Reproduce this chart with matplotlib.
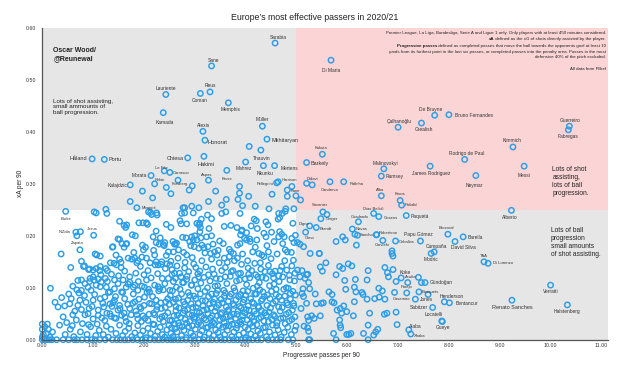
import matplotlib
matplotlib.use("Agg")
import matplotlib.pyplot as plt
from matplotlib.patches import Rectangle

plt.rcParams['font.family'] = ['Liberation Sans', 'DejaVu Sans']

# ---------------- data ----------------
title = "Europe\u2019s most effective passers in 2020/21"
x_label = "Progressive passes per 90"
y_label = "xA per 90"
x_ticks = [0, 1, 2, 3, 4, 5, 6, 7, 8, 9, 10, 11]
y_ticks = [0.0, 0.1, 0.2, 0.3, 0.4, 0.5, 0.6]

# named players (name, progressive passes p90, xA p90)
named_upper_left = [
    ("Sarabia", 4.58, 0.571), ("Sane", 3.33, 0.527), ("Lauriente", 2.43, 0.472),
    ("Reus", 3.30, 0.477), ("Coman", 3.11, 0.474), ("Memphis", 3.66, 0.456),
    ("Kamada", 2.38, 0.437), ("Alexis", 3.16, 0.401), ("Müller", 4.33, 0.411),
    ("Honorat", 3.20, 0.384), ("Mkhitaryan", 4.42, 0.386), ("Håland", 0.98, 0.348),
    ("Portu", 1.22, 0.347), ("Chiesa", 2.86, 0.350), ("Hakimi", 3.18, 0.353),
    ("Thauvin", 4.30, 0.365), ("Mahrez", 4.00, 0.342), ("Nkunku", 4.35, 0.335),
    ("Mertens", 4.57, 0.335), ("Le Fée", 2.40, 0.325), ("Carrasco", 2.51, 0.322),
    ("Morata", 2.14, 0.316), ("Aspas", 3.27, 0.307), ("Kruse", 3.63, 0.326),
    ("Rebic", 2.21, 0.300), ("Forsberg", 2.67, 0.307), ("Kalajdzic", 1.73, 0.298),
    ("Pellegrini", 4.61, 0.302), ("Harrison", 4.64, 0.304), ("Kane", 4.99, 0.277),
    ("Mbappé", 1.86, 0.254),
]
named_lower_left = [
    ("Burke", 0.46, 0.247), ("N'Zola", 0.66, 0.207), ("Jesus", 1.01, 0.201),
    ("Zapata", 0.68, 0.200),
]
named_lower_right = [
    ("Savanier", 5.52, 0.246), ("Geiger", 5.48, 0.233), ("Dias Belloli", 6.52, 0.243),
    ("Gosens", 6.62, 0.237), ("Cuadrado", 6.22, 0.227), ("Paquetá", 7.16, 0.239),
    ("Digne", 5.26, 0.219), ("Olmo", 5.18, 0.207), ("Brandt", 5.39, 0.216),
    ("Navas", 6.10, 0.213), ("Sancho", 6.20, 0.201), ("Robertson", 6.58, 0.202),
    ("Cancelo", 6.70, 0.191), ("Ceballos", 6.95, 0.190), ("Papu Gómez", 7.44, 0.190),
    ("Brozović", 7.98, 0.203), ("Barella", 8.28, 0.198), ("David Silva", 8.12, 0.189),
    ("Campaña", 7.71, 0.169), ("Modric", 7.65, 0.166), ("TAA", 8.69, 0.150),
    ("Di Lorenzo", 8.77, 0.147), ("Koke", 7.06, 0.119), ("Acuña", 7.40, 0.120),
    ("Gündoğan", 7.53, 0.110), ("Parejo", 7.19, 0.110), ("Busquets", 7.41, 0.092),
    ("Henderson", 7.91, 0.073), ("Bentancur", 8.01, 0.071), ("Casemiro", 7.17, 0.090),
    ("Jones", 7.34, 0.078), ("Sabitzer", 7.68, 0.062), ("Locatelli", 7.86, 0.036),
    ("Gueye", 7.87, 0.035), ("Alaba", 7.21, 0.019), ("Xhaka", 7.25, 0.011),
    ("Alberto", 9.23, 0.249), ("Verratti", 10.00, 0.105), ("Renato Sanches", 9.24, 0.076),
    ("Halstenberg", 10.33, 0.067),
]
named_upper_right = [
    ("Di Maria", 5.68, 0.538), ("De Bruyne", 7.72, 0.432), ("Bruno Fernandes", 8.00, 0.433),
    ("Çalhanoğlu", 7.00, 0.409), ("Grealish", 7.46, 0.417), ("Guerreiro", 10.37, 0.411),
    ("Fabregas", 10.35, 0.404), ("Kimmich", 9.26, 0.371), ("Kakuta", 5.51, 0.357),
    ("Barkely", 5.20, 0.341), ("Rodrigo de Paul", 8.31, 0.347), ("Malinovskyi", 6.72, 0.329),
    ("Messi", 9.48, 0.334), ("James Rodriguez", 7.63, 0.334), ("Neymar", 8.53, 0.316),
    ("Ramsey", 6.67, 0.315), ("Didavi", 5.20, 0.301), ("Candreva", 5.66, 0.304),
    ("Rafinha", 5.93, 0.304), ("Alba", 6.67, 0.277), ("Kroos", 7.04, 0.268),
    ("Pašalić", 7.07, 0.259),
]

# unnamed players, by region
others_upper_left = [
    (4.07, 0.372), (2.44, 0.293), (2.95, 0.296), (2.89, 0.288), (2.53, 0.281), (1.97, 0.286),
    (2.17, 0.273), (3.41, 0.286), (3.88, 0.295), (3.88, 0.282), (3.62, 0.270), (3.27, 0.266),
    (3.53, 0.259), (3.85, 0.270), (4.06, 0.276), (3.94, 0.258), (4.19, 0.257), (4.46, 0.252),
    (4.91, 0.295), (4.82, 0.288), (4.82, 0.276), (4.52, 0.280), (4.79, 0.252), (4.95, 0.252),
    (1.73, 0.266), (3.08, 0.254), (2.94, 0.257), (2.77, 0.254), (2.80, 0.254), (1.25, 0.251),
]
others_upper_right = [(5.08, 0.269), (5.31, 0.298)]
others_lower_right = [
    (5.60, 0.241), (5.11, 0.133), (5.17, 0.118), (5.22, 0.126), (5.24, 0.110), (5.26, 0.098),
    (5.13, 0.098), (5.14, 0.083), (5.20, 0.070), (5.09, 0.060), (5.22, 0.044), (5.24, 0.037),
    (5.15, 0.026), (5.22, 0.023), (5.24, 0.016), (5.26, 0.000), (5.45, 0.166), (5.58, 0.148),
    (5.47, 0.140), (5.51, 0.132), (5.78, 0.125), (5.85, 0.141), (5.91, 0.137), (5.95, 0.114),
    (5.97, 0.097), (6.02, 0.146), (6.09, 0.142), (6.16, 0.116), (6.17, 0.092), (6.14, 0.101),
    (6.39, 0.115), (6.41, 0.133), (6.39, 0.078), (6.29, 0.091), (6.62, 0.099), (6.63, 0.082),
    (6.69, 0.094), (6.74, 0.078), (6.73, 0.049), (6.78, 0.051), (6.74, 0.139), (6.79, 0.129),
    (6.81, 0.121), (6.90, 0.135), (6.96, 0.112), (6.96, 0.053), (6.98, 0.029), (6.93, 0.091),
    (6.60, 0.020), (6.56, 0.015), (6.52, 0.009), (6.41, 0.028), (6.41, 0.000), (6.32, 0.012),
    (6.07, 0.012), (5.99, 0.010), (6.03, 0.010), (5.73, 0.012), (5.78, 0.000), (5.24, 0.000),
    (5.80, 0.057), (5.86, 0.060), (5.93, 0.065), (5.99, 0.054), (5.89, 0.051), (5.70, 0.073),
    (5.74, 0.071), (5.53, 0.071), (5.49, 0.070), (5.39, 0.069), (5.70, 0.087), (5.64, 0.092),
    (5.37, 0.088), (5.47, 0.046), (5.30, 0.046), (5.35, 0.041), (5.85, 0.038), (5.86, 0.028),
    (5.87, 0.023), (6.12, 0.046), (6.14, 0.073), (6.31, 0.087), (6.54, 0.079), (6.44, 0.051),
    (5.78, 0.189), (5.91, 0.198), (5.96, 0.192), (6.18, 0.182), (6.88, 0.171), (6.88, 0.166),
    (6.90, 0.161), (5.02, 0.187), (5.07, 0.184), (5.14, 0.179), (5.27, 0.166), (5.02, 0.134),
    (5.07, 0.121), (5.20, 0.125), (5.11, 0.089), (6.15, 0.203), (7.46, 0.110), (7.59, 0.087),
    (5.45, 0.166), (6.57, 0.202),
]
others_zero_line = [
    0.00, 0.04, 0.09, 0.14, 0.19, 0.28, 0.41, 0.52, 0.63, 0.69, 0.78, 0.88, 0.97, 1.04, 1.13,
    1.24, 1.38, 1.47, 1.54, 1.62, 1.69, 1.78, 1.87, 1.96, 2.03, 2.12, 2.21, 2.29, 2.37, 2.46,
    2.53, 2.59, 2.67, 2.74, 2.83, 2.92, 2.99, 3.08, 3.17, 3.27, 3.34, 3.43, 3.52, 3.59, 3.68,
    3.76, 3.84, 3.91, 3.99, 4.06, 4.14, 4.23, 4.31, 4.44, 4.53, 4.61, 4.69, 4.84, 4.93,
]
others_low = [
    (0.00, 0.030), (0.00, 0.020), (0.02, 0.010), (0.05, 0.025), (0.10, 0.030), (0.08, 0.012),
    (0.15, 0.005), (0.20, 0.015), (0.00, 0.005), (0.12, 0.020), (0.45, 0.010), (0.55, 0.020),
    (0.62, 0.006), (0.75, 0.015), (0.88, 0.010), (0.95, 0.025), (1.05, 0.008), (1.12, 0.018),
    (1.20, 0.010), (1.30, 0.005), (1.35, 0.020), (1.45, 0.012), (1.52, 0.028), (1.58, 0.008),
    (1.63, 0.016), (1.70, 0.022), (1.76, 0.006), (1.82, 0.013), (1.88, 0.027), (1.93, 0.009),
    (1.98, 0.017), (2.04, 0.004), (2.08, 0.022), (2.13, 0.012), (2.18, 0.030), (2.22, 0.007),
    (2.27, 0.016), (2.32, 0.024), (2.36, 0.010), (2.41, 0.005), (2.45, 0.019), (2.49, 0.028),
    (2.53, 0.012), (2.57, 0.006), (2.61, 0.021), (2.65, 0.015), (2.70, 0.027), (2.74, 0.008),
    (2.79, 0.018), (2.83, 0.004), (2.88, 0.025), (2.92, 0.013), (2.97, 0.007), (3.01, 0.020),
    (3.05, 0.029), (3.10, 0.010), (3.14, 0.017), (3.19, 0.005), (3.23, 0.023), (3.28, 0.012),
    (3.32, 0.028), (3.37, 0.008), (3.41, 0.019), (3.46, 0.014), (3.50, 0.005), (3.55, 0.024),
    (3.59, 0.010), (3.64, 0.018), (3.68, 0.027), (3.73, 0.006), (3.77, 0.015), (3.82, 0.022),
    (3.87, 0.009), (3.91, 0.030), (3.96, 0.013), (4.00, 0.004), (4.05, 0.020), (4.10, 0.011),
    (4.14, 0.026), (4.19, 0.007), (4.24, 0.017), (4.29, 0.012), (4.35, 0.023), (4.41, 0.006),
    (4.47, 0.015), (4.53, 0.028), (4.58, 0.009), (4.64, 0.019), (4.70, 0.005), (4.76, 0.014),
    (4.83, 0.024), (4.90, 0.010), (4.97, 0.018),
]
others_mid = [
    (0.31, 0.063), (0.44, 0.065), (0.57, 0.079), (0.54, 0.069), (0.64, 0.055), (0.70, 0.066),
    (0.77, 0.058), (0.74, 0.076), (0.83, 0.085), (1.23, 0.082), (1.33, 0.069), (1.42, 0.076),
    (1.52, 0.066), (1.62, 0.079), (1.72, 0.060), (1.82, 0.073), (1.92, 0.063), (2.01, 0.082),
    (2.15, 0.069), (2.24, 0.076), (2.34, 0.060), (2.47, 0.079), (0.90, 0.050), (1.00, 0.040),
    (1.10, 0.047), (1.23, 0.037), (1.33, 0.050), (1.42, 0.042), (1.56, 0.047), (1.65, 0.035),
    (1.75, 0.048), (1.88, 0.040), (1.98, 0.046), (2.08, 0.037), (2.21, 0.048), (2.31, 0.040),
    (2.41, 0.046), (2.51, 0.037), (0.41, 0.044), (0.60, 0.048), (0.84, 0.048), (0.92, 0.060),
    (1.00, 0.076), (1.10, 0.057), (1.19, 0.070), (1.27, 0.051), (1.37, 0.064), (1.45, 0.041),
    (1.53, 0.060), (1.61, 0.051), (1.78, 0.070), (1.86, 0.048), (1.94, 0.060), (2.02, 0.041),
    (2.11, 0.070), (2.19, 0.051), (2.26, 0.064), (2.35, 0.044), (2.43, 0.073),
    (2.55, 0.037), (2.59, 0.046), (2.63, 0.056), (2.68, 0.032), (2.72, 0.043), (2.77, 0.051),
    (2.81, 0.039), (2.86, 0.058), (2.90, 0.035), (2.95, 0.047), (2.99, 0.041), (3.04, 0.054),
    (3.08, 0.033), (3.13, 0.045), (3.17, 0.057), (3.22, 0.038), (3.26, 0.050), (3.31, 0.042),
    (3.35, 0.034), (3.40, 0.055), (3.44, 0.046), (3.49, 0.039), (3.53, 0.052), (3.58, 0.033),
    (3.62, 0.044), (3.67, 0.058), (3.71, 0.037), (3.76, 0.049), (3.80, 0.041), (3.85, 0.055),
    (3.89, 0.034), (3.94, 0.046), (3.98, 0.052), (4.03, 0.038), (4.07, 0.057), (4.12, 0.043),
    (4.16, 0.035), (4.21, 0.050), (4.26, 0.041), (4.31, 0.056), (4.36, 0.036), (4.41, 0.047),
    (4.46, 0.053), (4.52, 0.039), (4.57, 0.045), (4.62, 0.033), (4.68, 0.055), (4.74, 0.042),
    (4.80, 0.049), (4.86, 0.036), (4.92, 0.057), (4.97, 0.044),
    (2.52, 0.085), (2.58, 0.072), (2.63, 0.064), (2.68, 0.080), (2.74, 0.088), (2.80, 0.068),
    (2.86, 0.076), (2.90, 0.085), (2.96, 0.062), (3.02, 0.079), (3.07, 0.070), (3.11, 0.088),
    (3.16, 0.065), (3.21, 0.075), (3.27, 0.083), (3.32, 0.061), (3.36, 0.072), (3.42, 0.089),
    (3.47, 0.067), (3.52, 0.078), (3.58, 0.084), (3.62, 0.063), (3.66, 0.074), (3.72, 0.088),
    (3.77, 0.066), (3.81, 0.077), (3.86, 0.083), (3.91, 0.061), (3.95, 0.072), (4.00, 0.086),
    (4.05, 0.065), (4.10, 0.079), (4.16, 0.070), (4.21, 0.088), (4.26, 0.062), (4.31, 0.075),
    (4.37, 0.083), (4.42, 0.066), (4.48, 0.079), (4.54, 0.070), (4.60, 0.087), (4.65, 0.063),
    (4.71, 0.076), (4.77, 0.084), (4.83, 0.067), (4.88, 0.078), (4.94, 0.070), (4.98, 0.086),
]
others_dense = [
    (1.44, 0.083), (1.49, 0.057), (1.58, 0.091), (1.63, 0.043), (1.68, 0.068), (1.71, 0.031),
    (1.79, 0.088), (1.84, 0.055), (1.90, 0.078), (1.95, 0.035), (2.00, 0.066), (2.06, 0.091),
    (2.10, 0.049), (2.17, 0.083), (2.20, 0.029), (2.25, 0.058), (2.29, 0.094), (2.33, 0.071),
    (2.38, 0.035), (2.42, 0.062), (2.47, 0.052), (2.50, 0.068), (2.54, 0.023), (2.56, 0.094),
    (2.60, 0.031), (2.62, 0.078), (2.66, 0.047), (2.69, 0.061), (2.71, 0.097), (2.75, 0.025),
    (2.78, 0.073), (2.80, 0.056), (2.84, 0.032), (2.87, 0.091), (2.89, 0.049), (2.93, 0.069),
    (2.95, 0.027), (2.98, 0.084), (3.00, 0.044), (3.03, 0.062), (3.06, 0.098), (3.09, 0.052),
    (3.12, 0.029), (3.15, 0.075), (3.18, 0.041), (3.20, 0.093), (3.24, 0.058), (3.26, 0.024),
    (3.29, 0.069), (3.33, 0.088), (3.34, 0.046), (3.38, 0.031), (3.39, 0.078), (3.43, 0.062),
    (3.45, 0.095), (3.48, 0.027), (3.51, 0.049), (3.54, 0.071), (3.56, 0.041), (3.60, 0.090),
    (3.61, 0.026), (3.65, 0.056), (3.69, 0.083), (3.70, 0.045), (3.74, 0.030), (3.75, 0.069),
    (3.79, 0.094), (3.83, 0.049), (3.84, 0.028), (3.88, 0.064), (3.90, 0.087), (3.93, 0.038),
    (3.97, 0.077), (3.99, 0.024), (4.01, 0.058), (4.04, 0.093), (4.08, 0.046), (4.09, 0.031),
    (4.13, 0.072), (4.17, 0.055), (4.18, 0.088), (4.22, 0.029), (4.25, 0.064), (4.28, 0.096),
    (4.30, 0.043), (4.33, 0.078), (4.38, 0.052), (4.39, 0.024), (4.43, 0.086), (4.45, 0.035),
    (4.49, 0.061), (4.51, 0.093), (4.55, 0.048), (4.59, 0.074), (4.61, 0.027), (4.66, 0.083),
    (4.69, 0.041), (4.72, 0.062), (4.75, 0.097), (4.78, 0.031), (4.81, 0.071), (4.85, 0.052),
    (4.88, 0.089), (4.91, 0.039), (4.95, 0.065), (4.99, 0.026),
    (0.25, 0.072), (0.34, 0.028), (0.38, 0.081), (0.48, 0.033), (0.52, 0.088), (0.59, 0.027),
    (0.67, 0.038), (0.72, 0.090), (0.79, 0.031), (0.86, 0.072), (0.91, 0.029), (0.98, 0.064),
    (1.03, 0.087), (1.08, 0.030), (1.14, 0.079), (1.17, 0.042), (1.21, 0.063), (1.26, 0.026),
    (1.30, 0.091), (1.35, 0.045), (1.39, 0.071),
]
others_upper_mid = [
    (0.16, 0.099), (0.70, 0.114), (0.60, 0.103), (0.93, 0.112), (1.00, 0.121), (1.10, 0.117),
    (1.15, 0.125), (0.77, 0.095), (0.90, 0.101), (0.96, 0.095), (1.06, 0.105), (1.16, 0.111),
    (1.26, 0.101), (1.33, 0.092), (1.42, 0.098), (1.49, 0.108), (1.56, 0.092), (1.65, 0.101),
    (1.72, 0.111), (1.82, 0.105), (1.88, 0.095), (2.01, 0.101), (2.11, 0.092), (2.21, 0.105),
    (2.31, 0.098), (2.41, 0.108), (2.51, 0.095), (0.68, 0.096), (0.77, 0.115), (0.84, 0.108),
    (0.94, 0.118), (1.02, 0.115), (1.24, 0.118), (1.28, 0.112), (1.14, 0.102), (1.42, 0.115),
    (1.50, 0.123), (1.59, 0.115), (1.69, 0.107), (1.79, 0.101), (1.89, 0.112), (1.96, 0.103),
    (2.05, 0.115), (2.09, 0.097), (2.28, 0.102), (2.38, 0.096), (2.48, 0.118), (2.58, 0.112),
    (2.64, 0.101), (2.76, 0.110), (2.84, 0.116), (2.94, 0.105), (0.56, 0.139), (0.83, 0.142),
    (0.93, 0.136), (1.00, 0.134), (1.13, 0.133), (1.28, 0.133), (1.41, 0.147), (1.46, 0.144),
    (1.55, 0.139), (1.55, 0.149), (0.81, 0.141), (0.91, 0.135), (1.06, 0.137), (1.14, 0.141),
    (1.25, 0.137), (1.34, 0.148), (1.86, 0.148), (2.12, 0.148), (2.22, 0.144), (2.45, 0.146),
    (2.24, 0.150), (2.28, 0.144), (2.34, 0.145), (2.51, 0.144), (2.42, 0.137), (0.77, 0.151),
    (2.55, 0.125), (2.62, 0.118), (2.70, 0.128), (2.78, 0.110), (2.85, 0.122), (2.93, 0.105),
    (3.00, 0.115), (3.06, 0.127), (3.12, 0.109), (3.18, 0.120), (3.25, 0.100), (3.30, 0.113),
    (3.38, 0.126), (3.45, 0.104), (3.50, 0.117), (3.57, 0.095), (3.63, 0.108), (3.70, 0.122),
    (3.77, 0.100), (3.82, 0.113), (3.90, 0.128), (3.95, 0.094), (4.02, 0.106), (4.08, 0.119),
    (4.15, 0.099), (4.20, 0.125), (4.27, 0.110), (4.34, 0.092), (4.40, 0.118), (4.47, 0.104),
    (4.53, 0.127), (4.60, 0.097), (4.66, 0.112), (4.73, 0.121), (4.80, 0.100), (4.87, 0.115),
    (4.93, 0.093), (4.97, 0.128), (3.40, 0.103), (3.60, 0.121), (3.88, 0.115), (4.06, 0.126),
    (4.23, 0.103), (4.32, 0.120), (4.48, 0.131), (4.56, 0.107), (4.65, 0.123), (4.84, 0.099),
    (4.71, 0.141), (4.81, 0.134), (4.91, 0.142), (2.55, 0.135), (2.65, 0.142), (2.80, 0.138),
    (2.98, 0.146), (3.10, 0.132), (3.22, 0.140), (3.35, 0.136), (3.48, 0.148), (3.60, 0.139),
    (3.75, 0.133), (3.92, 0.145), (4.05, 0.138), (4.18, 0.147), (4.30, 0.136), (4.45, 0.143),
    (4.58, 0.132),
    (1.36, 0.126), (1.45, 0.163), (1.62, 0.132), (1.72, 0.121), (1.80, 0.168), (1.84, 0.128),
    (1.93, 0.141), (2.00, 0.125), (2.08, 0.133), (2.14, 0.119), (2.19, 0.172), (2.27, 0.127),
    (2.36, 0.118), (2.44, 0.162), (2.53, 0.151), (2.60, 0.128), (2.67, 0.157), (2.73, 0.121),
    (2.81, 0.149), (2.88, 0.131), (2.95, 0.158), (3.02, 0.139), (3.08, 0.121), (3.14, 0.152),
    (3.20, 0.167), (3.27, 0.125), (3.33, 0.155), (3.42, 0.118), (3.46, 0.172), (3.53, 0.133),
    (3.56, 0.185), (3.64, 0.149), (3.72, 0.131), (3.78, 0.152), (3.86, 0.127), (3.94, 0.165),
    (3.99, 0.117), (4.04, 0.152), (4.12, 0.133), (4.19, 0.178), (4.24, 0.121), (4.29, 0.148),
    (4.38, 0.131), (4.42, 0.181), (4.50, 0.156), (4.55, 0.119), (4.62, 0.165), (4.68, 0.133),
    (4.77, 0.152), (4.86, 0.124), (4.90, 0.168), (4.96, 0.113),
]
others_high = [
    (0.37, 0.165), (0.74, 0.173), (1.52, 0.193), (1.57, 0.185), (1.66, 0.185), (1.61, 0.178),
    (1.38, 0.178), (1.97, 0.182), (1.99, 0.173), (2.03, 0.178), (2.24, 0.187), (2.30, 0.184),
    (2.38, 0.183), (2.41, 0.187), (2.57, 0.189), (2.60, 0.184), (2.64, 0.186), (2.76, 0.197),
    (2.94, 0.198), (2.97, 0.192), (2.48, 0.169), (2.58, 0.169), (2.68, 0.173), (2.78, 0.168),
    (2.84, 0.163), (2.99, 0.179), (3.08, 0.176), (3.14, 0.182), (3.26, 0.179), (3.31, 0.166),
    (3.39, 0.169), (3.44, 0.163), (3.58, 0.157), (3.68, 0.160), (3.76, 0.166), (3.84, 0.157),
    (3.68, 0.174), (3.71, 0.169), (3.84, 0.182), (3.89, 0.185), (4.02, 0.192), (4.09, 0.189),
    (4.14, 0.169), (4.26, 0.166), (4.32, 0.163), (4.36, 0.160), (4.45, 0.169), (4.22, 0.192),
    (4.40, 0.198), (4.56, 0.189), (4.65, 0.198), (4.73, 0.185), (4.78, 0.173), (4.82, 0.169),
    (4.94, 0.153), (1.04, 0.165), (1.07, 0.163), (1.14, 0.161), (1.52, 0.155), (1.76, 0.155),
    (2.05, 0.157), (2.35, 0.150), (2.83, 0.196), (2.90, 0.189), (2.92, 0.181), (3.00, 0.200),
    (3.04, 0.192), (3.12, 0.196), (3.23, 0.198), (3.33, 0.200), (3.49, 0.190), (3.18, 0.177),
    (3.36, 0.184), (3.98, 0.195), (4.08, 0.194), (4.91, 0.195), (4.95, 0.187), (2.62, 0.184),
    (1.69, 0.157), (1.82, 0.157), (1.88, 0.152), (1.96, 0.159), (2.21, 0.163), (1.39, 0.179),
    (1.49, 0.194), (1.65, 0.184), (2.18, 0.198), (2.24, 0.209), (2.32, 0.196), (2.40, 0.181),
    (2.44, 0.222),
    (1.02, 0.246), (1.06, 0.244), (1.27, 0.243), (2.09, 0.246), (2.13, 0.245), (2.25, 0.244),
    (2.74, 0.243), (2.80, 0.244), (2.97, 0.244), (3.25, 0.240), (3.33, 0.233), (3.53, 0.243),
    (3.61, 0.246), (3.89, 0.243), (4.65, 0.243), (2.71, 0.229), (2.73, 0.223), (2.84, 0.223),
    (1.52, 0.228), (1.61, 0.220), (1.64, 0.216), (1.66, 0.221), (1.90, 0.225), (1.98, 0.225),
    (2.05, 0.225), (2.07, 0.222), (3.04, 0.224), (3.08, 0.221), (3.11, 0.216), (3.28, 0.214),
    (3.10, 0.208), (3.58, 0.218), (3.71, 0.220), (3.83, 0.216), (3.93, 0.211), (4.02, 0.206),
    (4.11, 0.219), (4.23, 0.214), (4.40, 0.227), (4.44, 0.221), (4.36, 0.205), (4.67, 0.235),
    (4.67, 0.208), (4.71, 0.203), (4.76, 0.198), (4.93, 0.224), (4.98, 0.201), (1.77, 0.202),
    (1.83, 0.200), (0.75, 0.208), (4.72, 0.243), (3.13, 0.232), (3.10, 0.224), (2.53, 0.216),
    (3.92, 0.209), (3.90, 0.202), (4.17, 0.232), (4.21, 0.229), (4.51, 0.207), (4.64, 0.232),
    (4.78, 0.247), (2.26, 0.240), (2.15, 0.241),
]

# label placement: (dx px, dy px downward, alignment, size tier)
label_layout = {
    "Sarabia": (2.7, -5.3, "center", "M"), "Sane": (1.6, -5.4, "center", "M"),
    "Lauriente": (0, -6, "center", "M"), "Reus": (0, -6.7, "center", "M"),
    "Coman": (-1, 6.7, "center", "M"), "Memphis": (2, 7, "center", "M"),
    "Kamada": (2, 9.6, "center", "M"), "Alexis": (1, -5.6, "center", "M"),
    "Müller": (0, -6.3, "center", "M"), "Honorat": (3, 2.5, "left", "L"),
    "Mkhitaryan": (5, 1, "left", "L"), "Håland": (-4.5, 0, "right", "L"),
    "Portu": (4.5, 0, "left", "L"), "Chiesa": (-3.5, 1, "right", "L"),
    "Hakimi": (1.6, 8, "center", "L"), "Thauvin": (1, 8, "center", "M"),
    "Mahrez": (-1.6, 6.7, "center", "M"), "Nkunku": (2, 8, "center", "M"),
    "Mertens": (6, 2.6, "left", "M"), "Le Fée": (-3, -3.3, "center", "S"),
    "Carrasco": (3, 1, "left", "S"), "Morata": (-4, 0, "right", "M"),
    "Aspas": (-1.3, -5.7, "center", "S"), "Kruse": (0, 8.4, "center", "S"),
    "Rebic": (5.6, -3.7, "center", "S"), "Forsberg": (1.6, 3.7, "center", "S"),
    "Kalajdzic": (-3, 1, "right", "M"), "Pellegrini": (-3, 1.6, "right", "S"),
    "Harrison": (3, -1.7, "left", "S"), "Kane": (-0.7, -4.7, "center", "S"),
    "Mbappé": (5, 0, "left", "S"), "Burke": (0, 7.7, "center", "S"),
    "N'Zola": (-5, 0, "right", "S"), "Jesus": (-1.4, -6, "center", "S"),
    "Zapata": (0, 7, "center", "S"), "Savanier": (-2.7, -6.7, "center", "S"),
    "Geiger": (5, 0, "left", "S"), "Dias Belloli": (-0.6, -4.7, "center", "S"),
    "Gosens": (5, 1, "left", "S"), "Cuadrado": (1, -5, "center", "S"),
    "Paquetá": (4.5, 1, "left", "M"), "Pašalić": (3.5, 0, "left", "S"),
    "Kroos": (0, -6.4, "center", "S"), "Digne": (-6, -2.4, "center", "S"),
    "Olmo": (4, 6, "center", "S"), "Brandt": (3, 1.6, "left", "S"),
    "Navas": (3, 0, "left", "S"), "Sancho": (2, 0, "left", "S"),
    "Robertson": (2, -1.5, "left", "S"), "Cancelo": (-1, 5, "center", "S"),
    "Ceballos": (3, 1.3, "left", "S"), "Papu Gómez": (-1.7, -6.3, "center", "M"),
    "Brozović": (-1, -6.6, "center", "S"), "Barella": (4, 0.6, "left", "M"),
    "David Silva": (8, 5.6, "center", "M"), "Campaña": (2.7, -5, "center", "M"),
    "Modric": (0, 5.7, "center", "M"), "TAA": (0, -6, "center", "S"),
    "Di Lorenzo": (5, 0, "left", "S"), "Koke": (3.7, -5.7, "center", "M"),
    "Acuña": (-8, 0, "center", "S"), "Gündoğan": (5, 0, "left", "M"),
    "Parejo": (-1.3, 4.6, "center", "S"), "Busquets": (3, 0, "left", "S"),
    "Henderson": (7, -5, "center", "M"), "Bentancur": (6, 1, "left", "M"),
    "Casemiro": (-5.4, 6, "center", "S"), "Jones": (5, 0.7, "left", "M"),
    "Sabitzer": (-5, 0, "right", "M"), "Locatelli": (-8.3, -6, "center", "M"),
    "Gueye": (1, 6, "center", "M"), "Alaba": (6.7, -3.3, "center", "M"),
    "Xhaka": (3, 1.7, "left", "S"), "Alberto": (-1.6, 7, "center", "M"),
    "Verratti": (0, 6.3, "center", "M"), "Renato Sanches": (0, 7.3, "center", "L"),
    "Halstenberg": (0, 7, "center", "M"), "Di Maria": (0, 10.7, "center", "M"),
    "De Bruyne": (-3.7, -5.3, "center", "M"), "Bruno Fernandes": (6, 1, "left", "M"),
    "Çalhanoğlu": (1, -5.3, "center", "M"), "Grealish": (2.7, 6.7, "center", "M"),
    "Guerreiro": (1, -6, "center", "M"), "Fabregas": (0, 7, "center", "M"),
    "Kimmich": (-1, -6, "center", "M"), "Kakuta": (-1.3, -6.7, "center", "S"),
    "Barkely": (4, 1.4, "left", "L"), "Rodrigo de Paul": (2.4, -6, "center", "M"),
    "Malinovskyi": (1.3, -5, "center", "M"), "Messi": (0, 9, "center", "M"),
    "James Rodriguez": (1, 7.3, "center", "M"), "Neymar": (-1.4, 9.7, "center", "M"),
    "Ramsey": (4.5, 0.7, "left", "M"), "Didavi": (5.4, -4, "center", "S"),
    "Candreva": (0, 8, "center", "S"), "Rafinha": (6, 2.3, "left", "S"),
    "Alba": (-1, -5.7, "center", "S"),
}
tier_size = {"S": 3.0, "M": 3.5, "L": 4.0}

# ---------------- figure ----------------
W, H = 630, 371
fig = plt.figure(figsize=(W / 100, H / 100), dpi=100)
ax = fig.add_axes([42.3 / W, 1 - 339.7 / H, (608 - 42.3) / W, (339.7 - 28) / H])
XMAX, YMAX = 11.13, 0.60
ax.set_xlim(0, XMAX)
ax.set_ylim(0, YMAX)

grey = "#e6e6e6"
pink = "#fbd5d5"
ax.add_patch(Rectangle((0, 0.25), 5, YMAX - 0.25, facecolor=grey, edgecolor="none", zorder=0))
ax.add_patch(Rectangle((5, 0.25), XMAX - 5, YMAX - 0.25, facecolor=pink, edgecolor="none", zorder=0))
ax.add_patch(Rectangle((5, 0), XMAX - 5, 0.25, facecolor=grey, edgecolor="none", zorder=0))

blue = "#2b9de6"
all_pts = (others_low + others_mid + others_dense + others_upper_mid + others_high
           + others_upper_left + others_upper_right + others_lower_right
           + [(x, 0.0) for x in others_zero_line])
named_all = named_upper_left + named_lower_left + named_lower_right + named_upper_right
px = [p[0] for p in all_pts] + [p[1] for p in named_all]
py = [p[1] for p in all_pts] + [p[2] for p in named_all]
ax.scatter(px, py, s=15, facecolors="none", edgecolors=blue, linewidths=1.05,
           zorder=3, clip_on=False)

for name, x, y in named_all:
    dx, dy, ha, tier = label_layout.get(name, (0, 6, "center", "M"))
    ax.annotate(name, (x, y), xytext=(dx * 0.72, -dy * 0.72), textcoords="offset points",
                ha=ha, va="center", fontsize=tier_size[tier], color="#333333", zorder=4)

for side in ("top", "right"):
    ax.spines[side].set_visible(False)
for side in ("left", "bottom"):
    ax.spines[side].set_color("#555555")
    ax.spines[side].set_linewidth(0.9)
    ax.spines[side].set_zorder(5)

ax.set_xticks(x_ticks)
ax.set_xticklabels([f"{v:.2f}" for v in x_ticks])
ax.set_yticks(y_ticks)
ax.set_yticklabels([f"{v:.2f}" for v in y_ticks])
ax.tick_params(axis="both", length=0, labelsize=3.8, colors="#333333")
ax.tick_params(axis="x", pad=2.2)
ax.tick_params(axis="y", pad=4.5)

def fx(p):
    return p / W

def fy(p):
    return 1 - p / H

fig.text(fx(315), fy(17), title, ha="center", va="center", fontsize=6.3, color="#222222")
fig.text(fx(321.5), fy(355.5), x_label, ha="center", va="center", fontsize=4.7, color="#222222")
fig.text(fx(20), fy(183.5), y_label, ha="center", va="center", rotation=90, fontsize=4.7,
         color="#222222")

fig.text(fx(53.3), fy(54.5), "Oscar Wood/\n@Reunewal", ha="left", va="center",
         fontsize=5.0, fontweight="bold", color="#222222")
fig.text(fx(53.3), fy(106.9), "Lots of shot assisting,\nsmall ammounts of\nball progression.",
         ha="left", va="center", fontsize=4.5, color="#222222")
fig.text(fx(552.3), fy(181.5), "Lots of shot\nassisting,\nlots of ball\nprogression.",
         ha="left", va="center", fontsize=4.8, color="#222222")
fig.text(fx(550.7), fy(242.9), "Lots of ball\nprogression\nsmall amounts\nof shot assisting.",
         ha="left", va="center", fontsize=4.8, color="#222222")

# right-aligned note with bold lead words
fig.canvas.draw()
renderer = fig.canvas.get_renderer()
note_lines = [
    ("", "Premier League, La Liga, Bundesliga, Serie A and Ligue 1 only. Only players with at least 450 minutes considered.", 33.3),
    ("xA", " defined as the xG of shots directly assisted by the player.", 38.7),
    ("Progressive passes", " defined as completed passes that move the ball towards the opponents goal at least 10", 46.3),
    ("", "yards from its furthest point in the last six passes, or completed passes into the penalty area. Passes in the most", 51.7),
    ("", "defensive 40% of the pitch excluded.", 57.0),
    ("", "All data from FBref", 68.7),
]
note_size = 3.2
right_px = 606
for bold, normal, ypx in note_lines:
    t = fig.text(fx(right_px), fy(ypx), normal, ha="right", va="center",
                 fontsize=note_size, color="#222222")
    if bold:
        bb = t.get_window_extent(renderer=renderer)
        fig.text(bb.x0 / W, fy(ypx), bold, ha="right", va="center", fontsize=note_size,
                 fontweight="bold", color="#222222")

fig.savefig("out.png", dpi=100)
